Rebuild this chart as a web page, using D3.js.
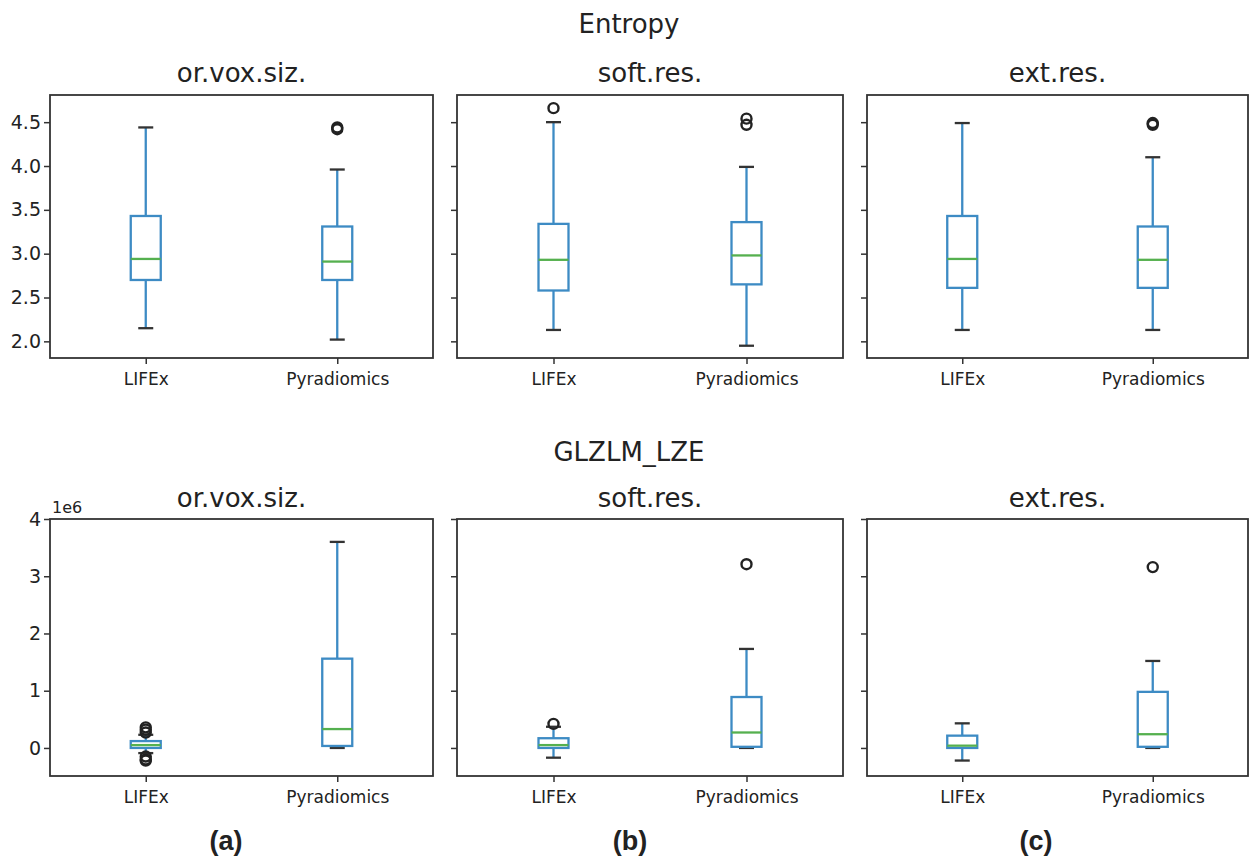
<!DOCTYPE html>
<html>
<head>
<meta charset="utf-8">
<script src="https://cdn.jsdelivr.net/npm/d3@7"></script>
<style>
  body { margin: 0; background: #fff; }
  svg text { font-family: "DejaVu Sans", sans-serif; fill: #222; }
</style>
</head>
<body>
<svg id="chart" width="1250" height="860"></svg>
<script>
// panel settings and categories
var features = ["Entropy", "GLZLM_LZE"];
var configs = ["or.vox.siz.", "soft.res.", "ext.res."];
var tools = ["LIFEx", "Pyradiomics"];
var panelLabels = ["(a)", "(b)", "(c)"];

// box stats: [whisker low, Q1, median, Q3, whisker high], per config then per tool
var entropyStats = [
  [[2.15, 2.70, 2.94, 3.43, 4.44], [2.02, 2.70, 2.91, 3.31, 3.96]],
  [[2.13, 2.58, 2.93, 3.34, 4.50], [1.95, 2.65, 2.98, 3.36, 3.99]],
  [[2.13, 2.61, 2.94, 3.43, 4.49], [2.13, 2.61, 2.93, 3.31, 4.10]]
];
var entropyOutliers = [
  [[], [4.42, 4.44]],
  [[4.66], [4.47, 4.54]],
  [[], [4.47, 4.49]]
];
var entropyTicks = [2.0, 2.5, 3.0, 3.5, 4.0, 4.5];

var lzeStats = [
  [[-90000, 0, 50000, 120000, 230000], [0, 35000, 330000, 1560000, 3600000]],
  [[-170000, 0, 50000, 170000, 370000], [0, 20000, 270000, 890000, 1730000]],
  [[-220000, 0, 40000, 215000, 430000], [0, 20000, 240000, 980000, 1520000]]
];
var lzeOutliers = [
  [[270000, 320000, 360000, -150000, -200000, -220000], []],
  [[420000], [3210000]],
  [[], [3160000]]
];
var lzeTicks = [0, 1000000, 2000000, 3000000, 4000000];

var svg = d3.select("#chart");

var colX = [[50, 433], [457, 843], [867, 1248]];
var rowY = [[95, 358], [519, 776]];
var rowTitleY = [33, 461];
var panelTitleY = [82, 507];

var rows = [
  {stats: entropyStats, outliers: entropyOutliers, ticks: entropyTicks,
   domain: [1.81, 4.81], fmt: d3.format(".1f")},
  {stats: lzeStats, outliers: lzeOutliers, ticks: lzeTicks,
   domain: [-490000, 4000000], fmt: function(d) { return d / 1e6; }}
];

rows.forEach(function(row, r) {
  svg.append("text")
    .attr("x", 629).attr("y", rowTitleY[r])
    .attr("text-anchor", "middle")
    .style("font-size", "26px")
    .text(features[r]);

  var y = d3.scaleLinear().domain(row.domain).range([rowY[r][1], rowY[r][0]]);

  configs.forEach(function(cfg, c) {
    var x0 = colX[c][0], x1 = colX[c][1];
    var x = d3.scalePoint().domain(tools).range([x0, x1]).padding(0.5);
    var g = svg.append("g");

    g.append("text")
      .attr("x", (x0 + x1) / 2).attr("y", panelTitleY[r])
      .attr("text-anchor", "middle")
      .style("font-size", "26px")
      .text(cfg);

    // y axis
    var yAxis = g.append("g")
      .attr("transform", "translate(" + x0 + ",0)")
      .call(d3.axisLeft(y).tickValues(row.ticks).tickSize(6).tickPadding(3)
        .tickFormat(c == 0 ? row.fmt : ""));
    yAxis.select(".domain").remove();
    yAxis.selectAll("line").attr("stroke", "#333").attr("stroke-width", 1.5);
    yAxis.selectAll("text").style("font-size", "19px").attr("fill", "#222");

    // x axis
    var xAxis = g.append("g")
      .attr("transform", "translate(0," + rowY[r][1] + ")")
      .call(d3.axisBottom(x).tickSize(6).tickPadding(9));
    xAxis.select(".domain").remove();
    xAxis.selectAll("line").attr("stroke", "#333").attr("stroke-width", 1.5);
    xAxis.selectAll("text").style("font-size", "17px").attr("fill", "#222");

    if (r == 1 && c == 0) {
      g.append("text")
        .attr("x", x0 + 2).attr("y", rowY[r][0] - 6)
        .style("font-size", "16px")
        .text("1e6");
    }

    var boxW = 30, capW = 15;
    tools.forEach(function(t, i) {
      var s = row.stats[c][i], cx = x(t);
      // whiskers
      g.append("line").attr("x1", cx).attr("x2", cx)
        .attr("y1", y(s[0])).attr("y2", y(s[1]))
        .attr("stroke", "#3d8bc4").attr("stroke-width", 2.3);
      g.append("line").attr("x1", cx).attr("x2", cx)
        .attr("y1", y(s[3])).attr("y2", y(s[4]))
        .attr("stroke", "#3d8bc4").attr("stroke-width", 2.3);
      // caps
      [s[0], s[4]].forEach(function(v) {
        g.append("line").attr("x1", cx - capW / 2).attr("x2", cx + capW / 2)
          .attr("y1", y(v)).attr("y2", y(v))
          .attr("stroke", "#333").attr("stroke-width", 2.3);
      });
      // box
      g.append("rect")
        .attr("x", cx - boxW / 2).attr("width", boxW)
        .attr("y", y(s[3])).attr("height", y(s[1]) - y(s[3]))
        .attr("fill", "none").attr("stroke", "#3d8bc4").attr("stroke-width", 2.3);
      // median
      g.append("line").attr("x1", cx - boxW / 2).attr("x2", cx + boxW / 2)
        .attr("y1", y(s[2])).attr("y2", y(s[2]))
        .attr("stroke", "#55b04f").attr("stroke-width", 2.3);
      // fliers
      g.selectAll(null).data(row.outliers[c][i]).enter()
        .append("circle")
        .attr("cx", cx).attr("cy", function(d) { return y(d); })
        .attr("r", 5)
        .attr("fill", "none").attr("stroke", "#222").attr("stroke-width", 2.4);
    });

    // frame
    g.append("rect")
      .attr("x", x0).attr("y", rowY[r][0])
      .attr("width", x1 - x0).attr("height", rowY[r][1] - rowY[r][0])
      .attr("fill", "none").attr("stroke", "#333").attr("stroke-width", 1.8);
  });
});

// panel letters
var labelX = [226, 630, 1036];
panelLabels.forEach(function(l, i) {
  svg.append("text")
    .attr("x", labelX[i]).attr("y", 850)
    .attr("text-anchor", "middle")
    .style("font-family", "'Liberation Sans', Arial, sans-serif")
    .style("font-weight", "bold")
    .style("font-size", "27px")
    .text(l);
});
</script>
</body>
</html>
